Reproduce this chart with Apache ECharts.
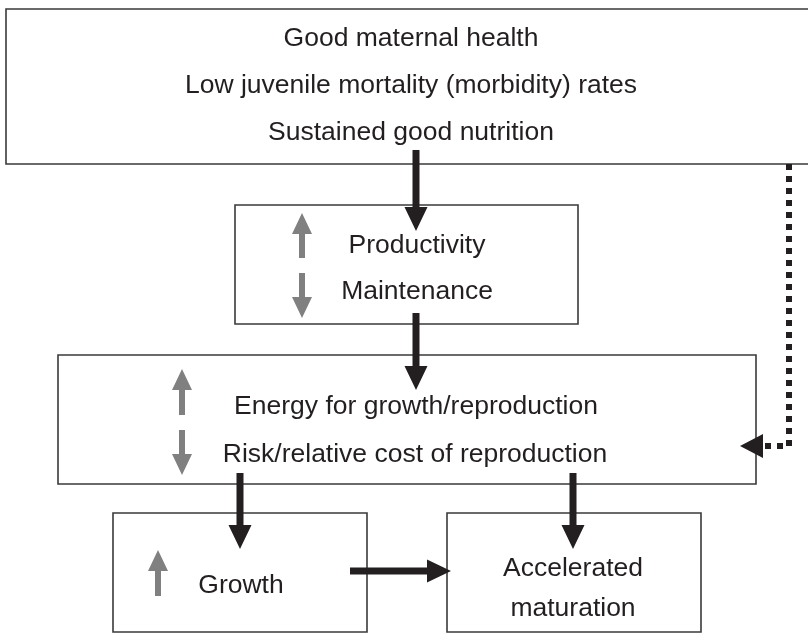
<!DOCTYPE html>
<html>
<head>
<meta charset="utf-8">
<script src="https://cdn.jsdelivr.net/npm/echarts@6/dist/echarts.min.js"></script>
<style>
html,body{margin:0;padding:0;background:#fff;}
#chart{width:808px;height:634px;}
</style>
</head>
<body>
<div id="chart"></div>
<script>
// Boxes: [x0, y0, x1, y1] in diagram units
const boxNames = ['Conditions', 'Productivity', 'Energy', 'Growth', 'Maturation'];
const boxes = [
  [6, 9, 814, 164],
  [235, 205, 578, 324],
  [58, 355, 756, 484],
  [113, 513, 367, 632],
  [447, 513, 701, 632]
];
// Text labels
const labelTexts = [
  'Good maternal health',
  'Low juvenile mortality (morbidity) rates',
  'Sustained good nutrition',
  'Productivity',
  'Maintenance',
  'Energy for growth/reproduction',
  'Risk/relative cost of reproduction',
  'Growth',
  'Accelerated',
  'maturation'
];
const labelPos = [
  [411, 39], [411, 86], [411, 133],
  [417, 246], [417, 292],
  [416, 407], [415, 455],
  [241, 586],
  [573, 569], [573, 609]
];
// Black causal arrows: [xFrom, yFrom, xTo, yTo]
const causalArrows = [
  [416, 150, 416, 231],
  [416, 313, 416, 390],
  [240, 473, 240, 549],
  [573, 473, 573, 549],
  [350, 571, 451, 571]
];
// Grey up/down indicator arrows: [x, yFrom, yTo]
const trendArrows = [
  [302, 258, 213],
  [302, 273, 318],
  [182, 415, 369],
  [182, 430, 475],
  [158, 596, 550]
];
// Dotted feedback path points
const feedbackPath = [[789, 164], [789, 446], [763, 446]];
const feedbackTip = [740, 446];

function arrowPoints(p0, p1, w, L, H) {
  const dx = p1[0] - p0[0], dy = p1[1] - p0[1];
  const len = Math.sqrt(dx * dx + dy * dy);
  const ux = dx / len, uy = dy / len;
  const nx = -uy, ny = ux;
  const b = [p1[0] - ux * L, p1[1] - uy * L];
  return [
    [p0[0] + nx * w / 2, p0[1] + ny * w / 2],
    [b[0] + nx * w / 2, b[1] + ny * w / 2],
    [b[0] + nx * H / 2, b[1] + ny * H / 2],
    [p1[0], p1[1]],
    [b[0] - nx * H / 2, b[1] - ny * H / 2],
    [b[0] - nx * w / 2, b[1] - ny * w / 2],
    [p0[0] - nx * w / 2, p0[1] - ny * w / 2]
  ];
}

const FONT = '"Liberation Sans", Arial, Helvetica, sans-serif';

const chart = echarts.init(document.getElementById('chart'), null, {renderer: 'canvas'});
chart.setOption({
  animation: false,
  backgroundColor: '#ffffff',
  grid: {left: 0, right: 0, top: 0, bottom: 0},
  xAxis: {type: 'value', min: 0, max: 808, show: false},
  yAxis: {type: 'value', min: 0, max: 634, inverse: true, show: false},
  series: [
    {
      type: 'custom',
      name: 'boxes',
      coordinateSystem: 'cartesian2d',
      data: boxes,
      renderItem: function (params, api) {
        const a = api.coord([api.value(0), api.value(1)]);
        const b = api.coord([api.value(2), api.value(3)]);
        return {
          type: 'rect',
          shape: {x: a[0], y: a[1], width: b[0] - a[0], height: b[1] - a[1]},
          style: {fill: '#ffffff', stroke: '#3a3a3a', lineWidth: 1.6}
        };
      },
      z: 1
    },
    {
      type: 'custom',
      name: 'feedback',
      coordinateSystem: 'cartesian2d',
      data: [0],
      renderItem: function (params, api) {
        const pts = feedbackPath.map(p => api.coord(p));
        const tip = api.coord(feedbackTip);
        const base = pts[pts.length - 1];
        return {
          type: 'group',
          children: [
            {
              type: 'polyline',
              shape: {points: pts},
              style: {stroke: '#231f20', lineWidth: 6, lineDash: [6, 6], lineCap: 'butt', lineJoin: 'miter', fill: null}
            },
            {
              type: 'polygon',
              shape: {points: [[base[0], base[1] - 12], [base[0], base[1] + 12], tip]},
              style: {fill: '#231f20'}
            }
          ]
        };
      },
      z: 3
    },
    {
      type: 'custom',
      name: 'causal',
      coordinateSystem: 'cartesian2d',
      data: causalArrows,
      renderItem: function (params, api) {
        const p0 = api.coord([api.value(0), api.value(1)]);
        const p1 = api.coord([api.value(2), api.value(3)]);
        return {
          type: 'polygon',
          shape: {points: arrowPoints(p0, p1, 7, 24, 23)},
          style: {fill: '#231f20'}
        };
      },
      z: 4
    },
    {
      type: 'custom',
      name: 'trend',
      coordinateSystem: 'cartesian2d',
      data: trendArrows,
      renderItem: function (params, api) {
        const p0 = api.coord([api.value(0), api.value(1)]);
        const p1 = api.coord([api.value(0), api.value(2)]);
        return {
          type: 'polygon',
          shape: {points: arrowPoints(p0, p1, 6, 21, 20)},
          style: {fill: '#808080'}
        };
      },
      z: 4
    },
    {
      type: 'custom',
      name: 'labels',
      coordinateSystem: 'cartesian2d',
      data: labelPos.map((p, i) => [p[0], p[1], i]),
      renderItem: function (params, api) {
        const p = api.coord([api.value(0), api.value(1)]);
        return {
          type: 'text',
          x: p[0], y: p[1],
          style: {
            text: labelTexts[api.value(2)],
            align: 'center',
            verticalAlign: 'middle',
            font: '26.5px ' + FONT,
            fill: '#231f20'
          }
        };
      },
      z: 5
    }
  ]
});
</script>
</body>
</html>
